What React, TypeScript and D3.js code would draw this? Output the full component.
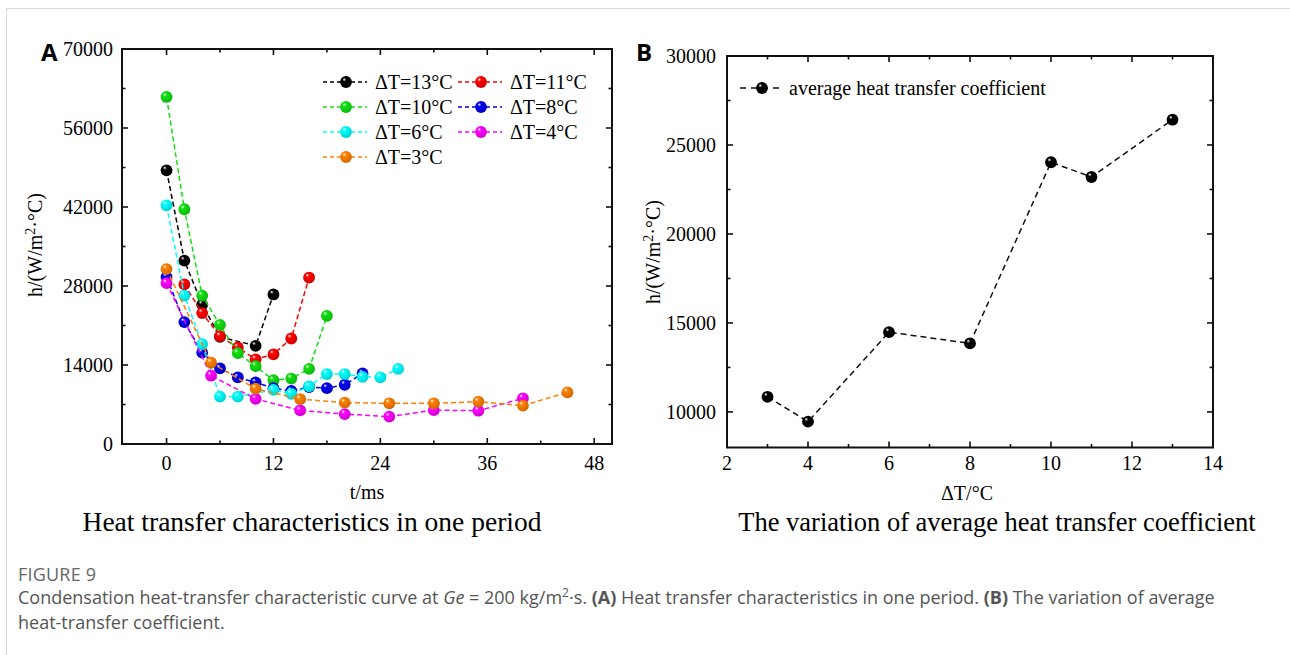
import React from "react";
import * as d3 from "d3";

// panel A: h over one period, one array pair per ΔT
const t13 = [0, 2, 4, 6, 10, 12];
const h13 = [48500, 32500, 24700, 19000, 17400, 26500];
const t11 = [2, 4, 6, 8, 10, 12, 14, 16];
const h11 = [28300, 23200, 19100, 17100, 15000, 15900, 18700, 29500];
const t10 = [0, 2, 4, 6, 8, 10, 12, 14, 16, 18];
const h10 = [61500, 41600, 26300, 21100, 16100, 13800, 11300, 11600, 13300, 22700];
const t8 = [0, 2, 4, 6, 8, 10, 12, 14, 16, 18, 20, 22];
const h8 = [29600, 21600, 16200, 13400, 11800, 10900, 9900, 9400, 10100, 9900, 10500, 12500];
const t6 = [0, 2, 4, 6, 8, 12, 14, 16, 18, 20, 22, 24, 26];
const h6 = [42300, 26300, 17700, 8400, 8400, 9600, 8900, 10200, 12400, 12400, 11900, 11800, 13300];
const t4 = [0, 5, 10, 15, 20, 25, 30, 35, 40];
const h4 = [28500, 12100, 8000, 5950, 5300, 4850, 6000, 5900, 8100];
const t3 = [0, 5, 10, 15, 20, 25, 30, 35, 40, 45];
const h3 = [31000, 14400, 9800, 7950, 7330, 7210, 7210, 7500, 6800, 9160];

const seriesNames = ["ΔT=13°C", "ΔT=11°C", "ΔT=10°C", "ΔT=8°C", "ΔT=6°C", "ΔT=4°C", "ΔT=3°C"];
const seriesColors = ["#000000", "#ff0000", "#10e010", "#0000ee", "#00ffff", "#ff00ff", "#ff8000"];
const seriesT = [t13, t11, t10, t8, t6, t4, t3];
const seriesH = [h13, h11, h10, h8, h6, h4, h3];

// panel B: average coefficient
const dT = [3, 4, 6, 8, 10, 11, 13];
const hAvg = [10850, 9450, 14480, 13850, 24030, 23200, 26420];

const xTicksA = [0, 12, 24, 36, 48];
const yTicksA = [0, 14000, 28000, 42000, 56000, 70000];
const xTicksB = [2, 4, 6, 8, 10, 12, 14];
const yTicksB = [10000, 15000, 20000, 25000, 30000];

const serif = "'Liberation Serif', 'Times New Roman', serif";
const sans = "'Open Sans', 'Noto Sans', sans-serif";
const fs = 20;

function Frame({ x, y, xTicks, xMinor, yTicks, yMinor }: any) {
  const [x0, x1] = x.range();
  const [y0, y1] = y.range();
  const big = 6;
  const small = 3.5;
  return (
    <g stroke="#111" strokeWidth={1.6}>
      {xTicks.map((v: number) => (
        <g key={"xt" + v}>
          <line x1={x(v)} x2={x(v)} y1={y0} y2={y0 - big} />
          <line x1={x(v)} x2={x(v)} y1={y1} y2={y1 + big} />
        </g>
      ))}
      {xMinor.map((v: number) => (
        <g key={"xm" + v}>
          <line x1={x(v)} x2={x(v)} y1={y0} y2={y0 - small} />
          <line x1={x(v)} x2={x(v)} y1={y1} y2={y1 + small} />
        </g>
      ))}
      {yTicks.map((v: number) => (
        <g key={"yt" + v}>
          <line x1={x0} x2={x0 + big} y1={y(v)} y2={y(v)} />
          <line x1={x1} x2={x1 - big} y1={y(v)} y2={y(v)} />
        </g>
      ))}
      {yMinor.map((v: number) => (
        <g key={"ym" + v}>
          <line x1={x0} x2={x0 + small} y1={y(v)} y2={y(v)} />
          <line x1={x1} x2={x1 - small} y1={y(v)} y2={y(v)} />
        </g>
      ))}
      <rect x={x0} y={y1} width={x1 - x0} height={y0 - y1} fill="none" strokeWidth={2} />
    </g>
  );
}

function Ball({ cx, cy, i }: any) {
  return <circle cx={cx} cy={cy} r={5.9} fill={`url(#ball${i})`} />;
}

function YTitle({ x, y }: any) {
  return (
    <text transform={`translate(${x},${y}) rotate(-90)`} textAnchor="middle" fontFamily={serif} fontSize={fs}>
      h/(W/m<tspan dy={-7} fontSize={14}>2</tspan>
      <tspan dy={7}>·°C)</tspan>
    </text>
  );
}

export default function App() {
  const xA = d3.scaleLinear().domain([-5, 50]).range([122, 612]);
  const yA = d3.scaleLinear().domain([0, 70000]).range([444, 49]);
  const xB = d3.scaleLinear().domain([2, 14]).range([727, 1213]);
  const yB = d3.scaleLinear().domain([8000, 30000]).range([447.5, 56]);

  const lineA = d3
    .line<[number, number]>()
    .x((d) => xA(d[0]))
    .y((d) => yA(d[1]));
  const lineB = d3
    .line<[number, number]>()
    .x((d) => xB(d[0]))
    .y((d) => yB(d[1]));

  const ballColors = [...seriesColors, "#000000"];

  return (
    <svg width={1290} height={655} style={{ position: "absolute", left: 0, top: 0, background: "#fff" }}>
      <defs>
        {ballColors.map((c, i) => (
          <radialGradient key={i} id={`ball${i}`} cx="0.4" cy="0.4" r="0.65" fx="0.35" fy="0.28">
            <stop offset="0%" stopColor="#fff" />
            <stop offset="25%" stopColor={c} />
            <stop offset="100%" stopColor={d3.color(c)!.darker(0.6).toString()} />
          </radialGradient>
        ))}
      </defs>

      {/* card borders */}
      <line x1={6.5} x2={1290} y1={8.5} y2={8.5} stroke="#d6d6d6" />
      <line x1={6.5} x2={6.5} y1={8.5} y2={655} stroke="#d6d6d6" />

      {/* ---------- panel A ---------- */}
      <text x={41} y={61} fontFamily={sans} fontWeight="bold" fontSize={24}>A</text>
      <Frame x={xA} y={yA} xTicks={xTicksA} xMinor={[6, 18, 30, 42]} yTicks={yTicksA} yMinor={[7000, 21000, 35000, 49000, 63000]} />
      {yTicksA.map((v) => (
        <text key={v} x={113} y={yA(v) + 7} textAnchor="end" fontFamily={serif} fontSize={fs}>{v}</text>
      ))}
      {xTicksA.map((v) => (
        <text key={v} x={xA(v)} y={470} textAnchor="middle" fontFamily={serif} fontSize={fs}>{v}</text>
      ))}
      <text x={367} y={499} textAnchor="middle" fontFamily={serif} fontSize={fs}>t/ms</text>
      <YTitle x={42} y={245} />

      {seriesT.map((ts, i) => {
        const pts = ts.map((t, j) => [t, seriesH[i][j]] as [number, number]);
        return (
          <g key={i}>
            <path d={lineA(pts)!} fill="none" stroke={seriesColors[i]} strokeWidth={1.5} strokeDasharray="5,3" />
            {pts.map((p, j) => (
              <Ball key={j} cx={xA(p[0])} cy={yA(p[1])} i={i} />
            ))}
          </g>
        );
      })}

      {/* legend A */}
      {seriesNames.map((name, i) => {
        const col = i % 2;
        const row = Math.floor(i / 2);
        const lx = col === 0 ? 323 : 458;
        const ly = 82 + row * 25;
        return (
          <g key={name}>
            <line x1={lx} x2={lx + 44} y1={ly} y2={ly} stroke={seriesColors[i]} strokeWidth={1.4} strokeDasharray="4,3" />
            <Ball cx={lx + 23} cy={ly} i={i} />
            <text x={lx + 52} y={ly + 7} fontFamily={serif} fontSize={fs}>{name}</text>
          </g>
        );
      })}

      <text x={312} y={531} textAnchor="middle" fontFamily={serif} fontSize={27.5}>
        Heat transfer characteristics in one period
      </text>

      {/* ---------- panel B ---------- */}
      <text x={636} y={61} fontFamily={sans} fontWeight="bold" fontSize={24}>B</text>
      <Frame x={xB} y={yB} xTicks={xTicksB} xMinor={[3, 5, 7, 9, 11, 13]} yTicks={yTicksB} yMinor={[12500, 17500, 22500, 27500]} />
      {yTicksB.map((v) => (
        <text key={v} x={716} y={yB(v) + 7} textAnchor="end" fontFamily={serif} fontSize={fs}>{v}</text>
      ))}
      {xTicksB.map((v) => (
        <text key={v} x={xB(v)} y={470} textAnchor="middle" fontFamily={serif} fontSize={fs}>{v}</text>
      ))}
      <text x={967} y={500} textAnchor="middle" fontFamily={serif} fontSize={fs}>ΔT/°C</text>
      <YTitle x={660} y={252} />

      <path
        d={lineB(dT.map((d, j) => [d, hAvg[j]] as [number, number]))!}
        fill="none"
        stroke="#111"
        strokeWidth={1.5}
        strokeDasharray="6,4"
      />
      {dT.map((d, j) => (
        <Ball key={j} cx={xB(d)} cy={yB(hAvg[j])} i={7} />
      ))}

      <line x1={740} x2={782} y1={88} y2={88} stroke="#111" strokeWidth={1.4} strokeDasharray="6,5" />
      <Ball cx={762} cy={88} i={7} />
      <text x={789} y={95} fontFamily={serif} fontSize={fs}>average heat transfer coefficient</text>

      <text x={997} y={531} textAnchor="middle" fontFamily={serif} fontSize={26.5}>
        The variation of average heat transfer coefficient
      </text>

      {/* ---------- caption ---------- */}
      <text x={18} y={581} fontFamily={sans} fontSize={18} fontWeight={500} fill="#666" letterSpacing={0.2}>FIGURE 9</text>
      <text x={18} y={604} fontFamily={sans} fontSize={18} fill="#555">
        Condensation heat-transfer characteristic curve at <tspan fontStyle="italic">Ge</tspan> = 200 kg/m
        <tspan dy={-7} fontSize={12}>2</tspan>
        <tspan dy={7}>·s. </tspan>
        <tspan fontWeight="bold">(A)</tspan> Heat transfer characteristics in one period. <tspan fontWeight="bold">(B)</tspan> The variation of average
      </text>
      <text x={18} y={629} fontFamily={sans} fontSize={18} fill="#555">heat-transfer coefficient.</text>
    </svg>
  );
}
